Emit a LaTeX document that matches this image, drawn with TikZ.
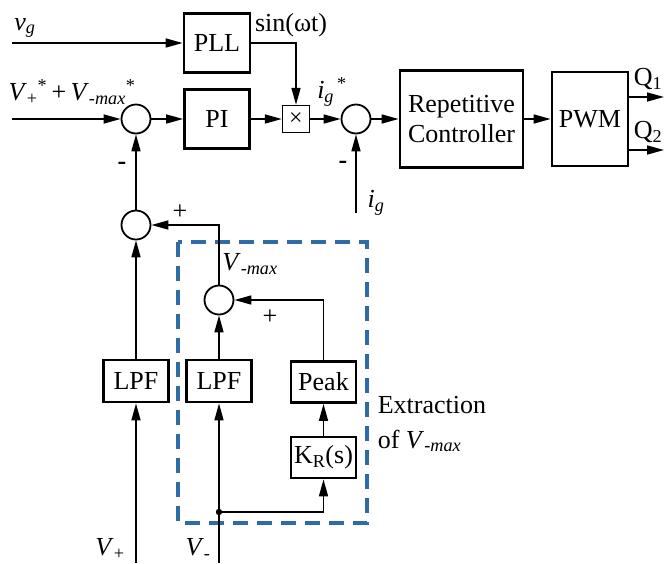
\documentclass[tikz,border=0pt]{standalone}
\usepackage{fontspec}
\setmainfont{Liberation Serif}
\usetikzlibrary{arrows.meta}
\definecolor{dashblue}{HTML}{2F6CA5}
\newcommand{\vmx}{\textit{V}\textsubscript{\textit{-max}}}

\tikzset{
  blk/.style={draw,line width=2.8pt,inner sep=0pt,align=center},
  sumc/.style={draw,circle,line width=1.8pt,minimum size=29pt,inner sep=0pt},
  lbl/.style={inner sep=0pt},
}

\begin{document}
\begin{tikzpicture}[x=1pt,y=-1pt,>={Triangle[length=17pt,width=9pt]},line width=1.6pt,
  font=\fontsize{26}{30}\selectfont]
\useasboundingbox (0,0) rectangle (664,563);
% forward path
\node[blk,minimum width=66pt,minimum height=59pt] (pll) at (217,43) {PLL};
\node[blk,minimum width=65pt,minimum height=59pt] (pi) at (217,119) {PI};
\node[draw,line width=1.4pt,minimum size=27pt,inner sep=0pt] (mult) at (296,119) {\fontsize{24}{24}\selectfont ×};
\node[sumc] (s1) at (136,119) {};
\node[sumc] (s3) at (356,119) {};
\node[blk,minimum width=123pt,minimum height=97pt] (rc) at (461.5,119) {Repetitive\\Controller};
\node[blk,minimum width=76pt,minimum height=94pt] (pwm) at (590,119) {PWM};
% feedback path
\node[sumc] (s2) at (136,225) {};
\node[sumc] (s4) at (219,300) {};
\node[blk,minimum width=65pt,minimum height=42pt] (lpfa) at (136,381) {LPF};
\node[blk,minimum width=65pt,minimum height=42pt] (lpfb) at (219,381) {LPF};
\node[blk,minimum width=65pt,minimum height=41pt] (peak) at (323.5,382) {Peak};
\node[blk,minimum width=65pt,minimum height=41pt] (kr) at (323.5,457.5) {K\textsubscript{R}(s)};
\draw[dashblue,line width=3.6pt,dash pattern=on 15pt off 9pt] (178,242) rectangle (367,523);
% in/out points
\coordinate (vgin) at (12,43);
\coordinate (refin) at (12,119);
\coordinate (igin) at (356,213);
\coordinate (vpin) at (136,563);
\coordinate (vmin) at (219,563);
\coordinate (jn) at (219,512);
\coordinate (q1) at (664,97);
\coordinate (q2) at (664,150);
% connectors
\draw[->] (vgin) -- (pll);
\draw[->] (pll.east) -| (mult.north);
\draw[->] (refin) -- (s1);
\draw[->] (s1) -- (pi);
\draw[->] (pi) -- (mult);
\draw[->] (mult) -- (s3);
\draw[->] (s3) -- (rc);
\draw[->] (rc) -- (pwm);
\draw[->] (q1 -| pwm.east) -- (q1);
\draw[->] (q2 -| pwm.east) -- (q2);
\draw[->] (igin) -- (s3);
\draw[->] (s2) -- (s1);
\draw[->] (lpfa) -- (s2);
\draw[->] (s4.north) |- (s2.east);
\draw[->] (lpfb) -- (s4);
\draw[->] (peak.north) |- (s4.east);
\draw[->] (kr) -- (peak);
\draw[->] (vpin) -- (lpfa);
\draw[->] (vmin) -- (lpfb);
\draw[->] (jn) -| (kr.south);
\fill (jn) circle (3.2pt);
% labels
\node[lbl] (lvg) at (25,28) {\textit{v}\textsubscript{\textit{g}}};
\node[lbl] (lsin) at (291,25) {sin(ωt)};
\node[lbl] (lref) at (72,92) {\textit{V}\textsubscript{+}\textsuperscript{*}\,+\,\vmx\textsuperscript{*}};
\node[lbl] (ligs) at (332,92) {\textit{i}\textsubscript{\textit{g}}\textsuperscript{\,*}};
\node[lbl] (lig) at (376,203) {\textit{i}\textsubscript{\textit{g}}};
\node[lbl,anchor=east] (lq1) at (663,79) {Q\textsubscript{1}};
\node[lbl,anchor=east] (lq2) at (663,132) {Q\textsubscript{2}};
\node[lbl] (m1) at (122,166) {\bfseries -};
\node[lbl] (m2) at (343,165) {\bfseries -};
\node[lbl] (p1) at (180,212) {+};
\node[lbl] (p2) at (270,317) {+};
\node[lbl] (lvm) at (250,264) {\vmx};
\node[lbl,anchor=west] (lex) at (377,405) {Extraction};
\node[lbl,anchor=west] (lof) at (377,441) {of \vmx};
\node[lbl] (lvp) at (110,549) {\textit{V}\textsubscript{+}};
\node[lbl] (lvn) at (198,549) {\textit{V}\textsubscript{-}};
\end{tikzpicture}
\end{document}
